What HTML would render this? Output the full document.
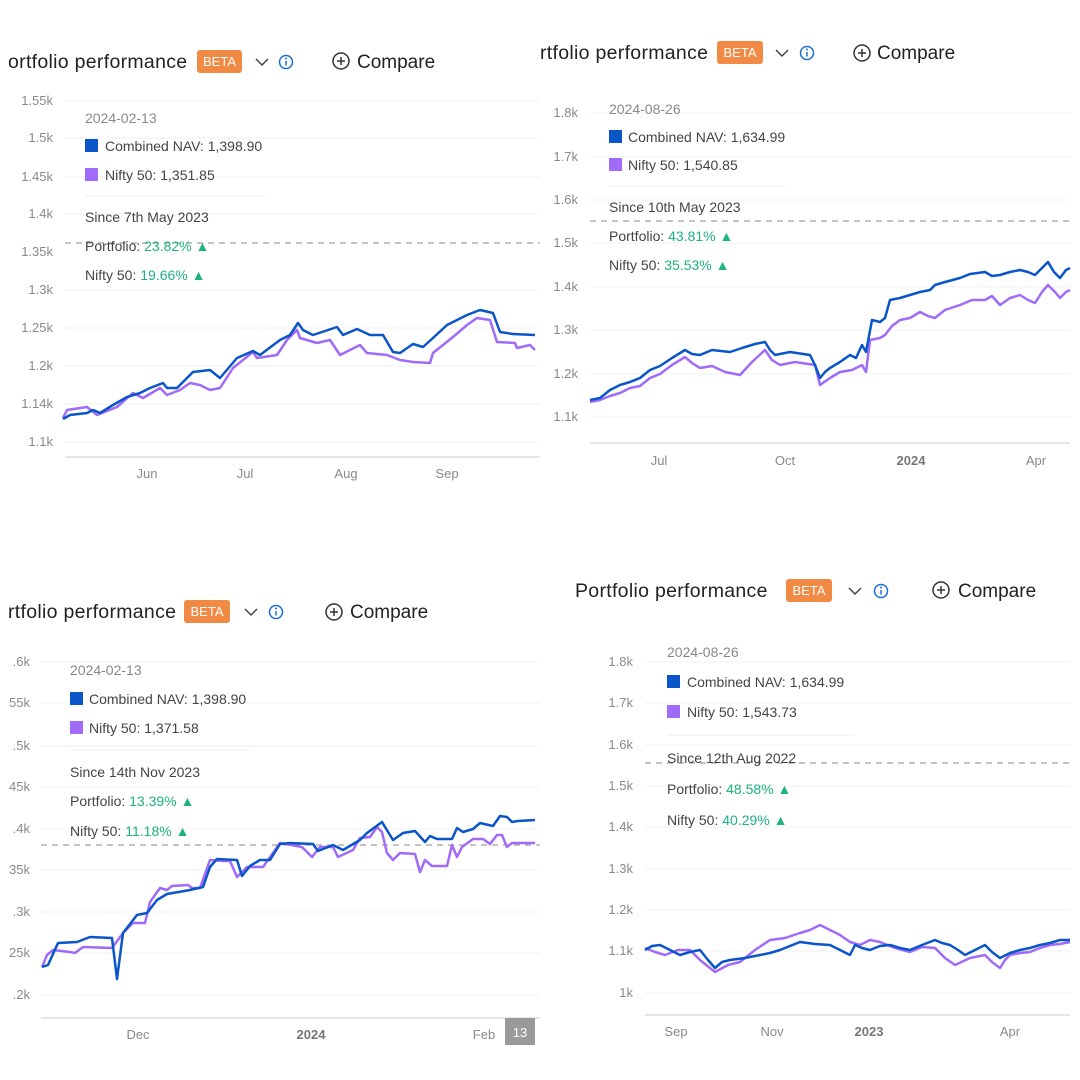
<!DOCTYPE html>
<html><head><meta charset="utf-8"><style>
html,body{margin:0;padding:0;background:#fff}
svg{display:block;font-family:"Liberation Sans",sans-serif}
.h{font-size:19px;fill:#222}
.hh{font-size:19.5px;fill:#222;letter-spacing:0.3px}
.b{font-size:13px;fill:#fff}
.y{font-size:13px;fill:#8a8a8a;text-anchor:end}
.x{font-size:13px;fill:#8a8a8a;text-anchor:middle}
.xb{font-size:13px;fill:#777;text-anchor:middle;font-weight:bold}
.t{font-size:14px;fill:#444}
.d{font-size:14px;fill:#888}
.g{fill:#1DB37E}
.grid{stroke:#f0f0f0;stroke-width:1}
.ax{stroke:#ddd;stroke-width:1.5}
.dash{stroke:#888;stroke-width:1;stroke-dasharray:6 5}
.bl{fill:none;stroke:#0A55C8;stroke-width:2.5;stroke-linejoin:round}
.pu{fill:none;stroke:#A06BF8;stroke-width:2.5;stroke-linejoin:round}
.sep{stroke:#eee;stroke-width:1}
</style></head><body>
<svg width="1080" height="1080" viewBox="0 0 1080 1080">
<defs>
<g id="chev"><path d="M-6,-3 L0,3 L6,-3" fill="none" stroke="#444" stroke-width="1.5"/></g>
<g id="info"><circle r="6.5" fill="none" stroke="#1a6fd6" stroke-width="1.5"/><line x1="0" y1="-1" x2="0" y2="3.5" stroke="#1a6fd6" stroke-width="1.5"/><circle cy="-3.5" r="1" fill="#1a6fd6"/></g>
<g id="plus"><circle r="8" fill="none" stroke="#333" stroke-width="1.5"/><line x1="-4" x2="4" stroke="#333" stroke-width="1.5"/><line y1="-4" y2="4" stroke="#333" stroke-width="1.5"/></g>
</defs>

<!-- Panel 1 -->
<text class="hh" x="8" y="68">ortfolio performance</text>
<rect x="197" y="50" width="45" height="23" rx="3" fill="#F08A45"/><text class="b" x="219.5" y="66" text-anchor="middle">BETA</text>
<use href="#chev" x="262" y="62"/><use href="#info" x="286" y="62"/><use href="#plus" x="341" y="61"/>
<text class="h" x="357" y="68">Compare</text>
<g class="grid"><line x1="65" x2="540" y1="101" y2="101"/><line x1="65" x2="540" y1="138" y2="138"/><line x1="65" x2="540" y1="177" y2="177"/><line x1="65" x2="540" y1="214" y2="214"/><line x1="65" x2="540" y1="290" y2="290"/><line x1="65" x2="540" y1="328" y2="328"/><line x1="65" x2="540" y1="366" y2="366"/><line x1="65" x2="540" y1="404" y2="404"/><line x1="65" x2="540" y1="442" y2="442"/></g>
<line class="ax" x1="65" x2="540" y1="457" y2="457"/>
<g><text class="y" x="53" y="105">1.55k</text><text class="y" x="53" y="142">1.5k</text><text class="y" x="53" y="181">1.45k</text><text class="y" x="53" y="218">1.4k</text><text class="y" x="53" y="256">1.35k</text><text class="y" x="53" y="294">1.3k</text><text class="y" x="53" y="332">1.25k</text><text class="y" x="53" y="370">1.2k</text><text class="y" x="53" y="408">1.14k</text><text class="y" x="53" y="446">1.1k</text></g>
<text class="x" x="147" y="478">Jun</text><text class="x" x="245" y="478">Jul</text><text class="x" x="346" y="478">Aug</text><text class="x" x="447" y="478">Sep</text>
<line class="dash" x1="65" x2="540" y1="243" y2="243"/>
<text class="d" x="85" y="123">2024-02-13</text>
<rect x="85" y="139" width="13" height="13" fill="#0A55C8"/><text class="t" x="105" y="151">Combined NAV: 1,398.90</text>
<rect x="85" y="168" width="13" height="13" fill="#A06BF8"/><text class="t" x="105" y="180">Nifty 50: 1,351.85</text>
<line class="sep" x1="85" x2="265" y1="196" y2="196"/>
<text class="t" x="85" y="222">Since 7th May 2023</text>
<text class="t" x="85" y="251">Portfolio: <tspan class="g">23.82% ▲</tspan></text>
<text class="t" x="85" y="280">Nifty 50: <tspan class="g">19.66% ▲</tspan></text>
<polyline class="pu" points="63,418 67,410 87,407 97,415 117,407 133,393 143,398 160,388 167,395 180,390 190,383 200,385 210,390 220,388 233,368 253,352 257,358 277,355 287,340 297,330 300,338 317,343 330,340 340,355 360,345 367,353 387,355 400,360 413,362 430,363 433,353 453,337 467,325 477,318 490,320 497,342 515,343 517,348 530,345 535,350"/>
<polyline class="bl" points="63,419 70,415 87,413 93,410 100,413 113,405 127,397 140,393 150,388 163,383 167,388 177,388 193,372 210,370 220,378 237,358 253,351 260,355 280,340 290,335 298,323 303,330 313,335 337,327 343,335 357,329 370,335 383,335 393,352 400,353 413,344 423,347 433,338 447,325 467,315 480,310 493,313 500,332 513,334 535,335"/>

<!-- Panel 2 -->
<text class="hh" x="540" y="59">rtfolio performance</text>
<rect x="717" y="41" width="46" height="23" rx="3" fill="#F08A45"/><text class="b" x="740" y="57" text-anchor="middle">BETA</text>
<use href="#chev" x="782" y="53"/><use href="#info" x="807" y="53"/><use href="#plus" x="862" y="53"/>
<text class="h" x="877" y="59">Compare</text>
<g class="grid"><line x1="590" x2="1070" y1="113" y2="113"/><line x1="590" x2="1070" y1="157" y2="157"/><line x1="590" x2="1070" y1="200" y2="200"/><line x1="590" x2="1070" y1="243" y2="243"/><line x1="590" x2="1070" y1="287" y2="287"/><line x1="590" x2="1070" y1="330" y2="330"/><line x1="590" x2="1070" y1="374" y2="374"/><line x1="590" x2="1070" y1="417" y2="417"/></g>
<line class="ax" x1="590" x2="1070" y1="443" y2="443"/>
<g><text class="y" x="578" y="117">1.8k</text><text class="y" x="578" y="161">1.7k</text><text class="y" x="578" y="204">1.6k</text><text class="y" x="578" y="247">1.5k</text><text class="y" x="578" y="291">1.4k</text><text class="y" x="578" y="334">1.3k</text><text class="y" x="578" y="378">1.2k</text><text class="y" x="578" y="421">1.1k</text></g>
<text class="x" x="659" y="465">Jul</text><text class="x" x="785" y="465">Oct</text><text class="xb" x="911" y="465">2024</text><text class="x" x="1036" y="465">Apr</text>
<line class="dash" x1="590" x2="1070" y1="221" y2="221"/>
<text class="d" x="609" y="114">2024-08-26</text>
<rect x="609" y="130" width="13" height="13" fill="#0A55C8"/><text class="t" x="628" y="142">Combined NAV: 1,634.99</text>
<rect x="609" y="158" width="13" height="13" fill="#A06BF8"/><text class="t" x="628" y="170">Nifty 50: 1,540.85</text>
<line class="sep" x1="609" x2="785" y1="186" y2="186"/>
<text class="t" x="609" y="212">Since 10th May 2023</text>
<text class="t" x="609" y="241">Portfolio: <tspan class="g">43.81% ▲</tspan></text>
<text class="t" x="609" y="270">Nifty 50: <tspan class="g">35.53% ▲</tspan></text>
<polyline class="pu" points="590,402 600,400 610,396 620,393 630,388 640,386 650,378 660,374 672,365 685,357 692,363 700,368 712,366 725,372 740,375 752,362 765,350 772,360 780,365 795,362 815,365 820,385 830,378 840,372 852,370 862,365 866,372 870,340 880,338 885,335 892,326 900,320 910,318 920,312 928,316 935,318 945,310 960,305 972,300 985,300 992,296 1000,305 1010,298 1020,295 1028,300 1035,303 1042,292 1048,285 1055,292 1060,298 1066,292 1070,290"/>
<polyline class="bl" points="590,400 600,398 610,390 620,385 630,382 640,378 650,370 660,366 672,358 685,350 692,354 700,355 712,350 730,352 742,348 755,344 765,342 770,350 775,355 790,352 810,355 815,365 820,378 825,372 830,368 840,362 850,355 856,358 862,345 866,352 872,320 880,322 885,318 890,300 900,298 910,295 920,292 930,290 935,285 945,282 960,278 970,274 985,272 992,276 1000,275 1010,272 1020,270 1028,272 1035,275 1042,268 1048,262 1054,272 1060,278 1066,270 1070,268"/>

<!-- Panel 3 -->
<text class="hh" x="8" y="618">rtfolio performance</text>
<rect x="184" y="600" width="46" height="23" rx="3" fill="#F08A45"/><text class="b" x="207" y="616" text-anchor="middle">BETA</text>
<use href="#chev" x="251" y="612"/><use href="#info" x="276" y="612"/><use href="#plus" x="334" y="612"/>
<text class="h" x="350" y="618">Compare</text>
<g class="grid"><line x1="41" x2="540" y1="662" y2="662"/><line x1="41" x2="540" y1="703" y2="703"/><line x1="41" x2="540" y1="746" y2="746"/><line x1="41" x2="540" y1="787" y2="787"/><line x1="41" x2="540" y1="829" y2="829"/><line x1="41" x2="540" y1="870" y2="870"/><line x1="41" x2="540" y1="912" y2="912"/><line x1="41" x2="540" y1="953" y2="953"/><line x1="41" x2="540" y1="995" y2="995"/></g>
<line class="ax" x1="41" x2="540" y1="1018" y2="1018"/>
<g><text class="y" x="30" y="666">.6k</text><text class="y" x="30" y="707">55k</text><text class="y" x="30" y="750">.5k</text><text class="y" x="30" y="791">45k</text><text class="y" x="30" y="833">.4k</text><text class="y" x="30" y="874">35k</text><text class="y" x="30" y="916">.3k</text><text class="y" x="30" y="957">25k</text><text class="y" x="30" y="999">.2k</text></g>
<text class="x" x="138" y="1039">Dec</text><text class="xb" x="311" y="1039">2024</text><text class="x" x="484" y="1039">Feb</text>
<rect x="505" y="1018" width="30" height="27" fill="#9a9a9a"/><text class="x" x="520" y="1037" style="fill:#fff">13</text>
<line class="dash" x1="41" x2="540" y1="845" y2="845"/>
<text class="d" x="70" y="675">2024-02-13</text>
<rect x="70" y="692" width="13" height="13" fill="#0A55C8"/><text class="t" x="89" y="704">Combined NAV: 1,398.90</text>
<rect x="70" y="721" width="13" height="13" fill="#A06BF8"/><text class="t" x="89" y="733">Nifty 50: 1,371.58</text>
<line class="sep" x1="70" x2="250" y1="750" y2="750"/>
<text class="t" x="70" y="777">Since 14th Nov 2023</text>
<text class="t" x="70" y="806">Portfolio: <tspan class="g">13.39% ▲</tspan></text>
<text class="t" x="70" y="836">Nifty 50: <tspan class="g">11.18% ▲</tspan></text>
<polyline class="pu" points="42,967 47,955 53,950 70,952 75,953 83,947 112,948 123,933 133,923 145,923 150,902 160,888 167,890 172,886 188,885 192,888 200,888 210,860 223,861 230,861 237,877 247,867 263,867 280,843 302,847 312,857 320,847 333,847 338,857 353,850 360,838 370,837 377,827 382,832 387,853 393,860 400,853 415,854 420,872 425,860 432,866 447,866 452,845 457,857 462,847 473,839 483,839 490,844 497,835 502,835 507,847 512,843 535,843"/>
<polyline class="bl" points="42,967 48,965 58,943 77,942 90,937 112,938 117,979 123,933 137,915 147,913 157,900 167,894 190,890 203,887 210,867 217,859 237,860 242,876 250,866 260,860 270,860 280,844 290,843 313,844 318,851 333,845 343,850 360,840 367,833 382,822 393,840 403,833 415,831 425,842 430,836 437,839 452,839 457,828 463,832 473,829 480,823 493,826 500,816 507,817 512,822 518,821 535,820"/>

<!-- Panel 4 -->
<text class="hh" x="575" y="597">Portfolio performance</text>
<rect x="786" y="579" width="46" height="23" rx="3" fill="#F08A45"/><text class="b" x="809" y="595" text-anchor="middle">BETA</text>
<use href="#chev" x="855" y="591"/><use href="#info" x="881" y="591"/><use href="#plus" x="941" y="590"/>
<text class="h" x="958" y="597">Compare</text>
<g class="grid"><line x1="645" x2="1070" y1="662" y2="662"/><line x1="645" x2="1070" y1="703" y2="703"/><line x1="645" x2="1070" y1="745" y2="745"/><line x1="645" x2="1070" y1="786" y2="786"/><line x1="645" x2="1070" y1="827" y2="827"/><line x1="645" x2="1070" y1="869" y2="869"/><line x1="645" x2="1070" y1="910" y2="910"/><line x1="645" x2="1070" y1="951" y2="951"/><line x1="645" x2="1070" y1="993" y2="993"/></g>
<line class="ax" x1="645" x2="1070" y1="1015" y2="1015"/>
<g><text class="y" x="633" y="666">1.8k</text><text class="y" x="633" y="707">1.7k</text><text class="y" x="633" y="749">1.6k</text><text class="y" x="633" y="790">1.5k</text><text class="y" x="633" y="831">1.4k</text><text class="y" x="633" y="873">1.3k</text><text class="y" x="633" y="914">1.2k</text><text class="y" x="633" y="955">1.1k</text><text class="y" x="633" y="997">1k</text></g>
<text class="x" x="676" y="1036">Sep</text><text class="x" x="772" y="1036">Nov</text><text class="xb" x="869" y="1036">2023</text><text class="x" x="1010" y="1036">Apr</text>
<line class="dash" x1="645" x2="1070" y1="763" y2="763"/>
<text class="d" x="667" y="657">2024-08-26</text>
<rect x="667" y="675" width="13" height="13" fill="#0A55C8"/><text class="t" x="687" y="687">Combined NAV: 1,634.99</text>
<rect x="667" y="705" width="13" height="13" fill="#A06BF8"/><text class="t" x="687" y="717">Nifty 50: 1,543.73</text>
<line class="sep" x1="667" x2="855" y1="735" y2="735"/>
<text class="t" x="667" y="763">Since 12th Aug 2022</text>
<text class="t" x="667" y="794">Portfolio: <tspan class="g">48.58% ▲</tspan></text>
<text class="t" x="667" y="825">Nifty 50: <tspan class="g">40.29% ▲</tspan></text>
<polyline class="pu" points="645,948 655,952 665,955 678,950 690,950 700,960 715,972 728,965 740,962 755,950 770,940 785,938 800,933 810,930 820,925 830,930 840,935 850,942 860,945 870,940 880,942 895,948 910,952 922,947 935,948 945,958 955,965 970,958 985,955 992,962 1000,968 1005,960 1010,955 1020,953 1030,952 1040,948 1050,945 1060,944 1070,942"/>
<polyline class="bl" points="645,950 652,946 660,945 670,950 680,955 690,952 700,950 708,960 715,968 722,962 730,960 745,958 760,955 770,953 780,950 790,946 800,942 815,944 830,945 840,950 850,955 855,945 862,948 870,950 880,946 890,945 900,948 910,950 922,945 935,940 942,943 950,945 958,950 965,955 975,950 985,945 992,952 1000,958 1010,953 1020,950 1030,948 1040,945 1050,943 1060,940 1070,940"/>
</svg>
</body></html>
